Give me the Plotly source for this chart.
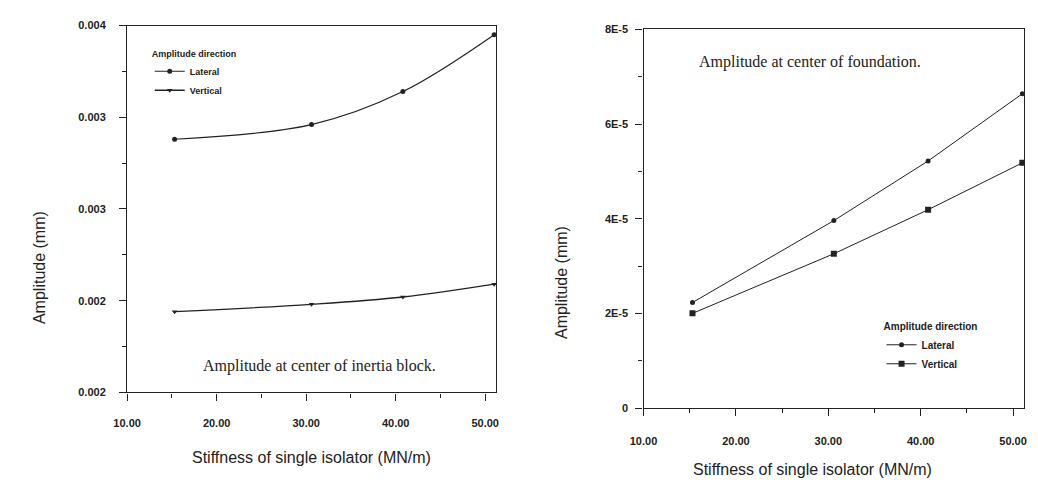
import plotly.graph_objects as go

# ---- data ----
stiffness = [15.3, 30.6, 40.8, 51.0]
inertia_lateral = [0.00338, 0.00346, 0.00364, 0.00395]
inertia_vertical = [0.00244, 0.00248, 0.00252, 0.00259]
foundation_lateral = [2.23e-5, 3.96e-5, 5.22e-5, 6.64e-5]
foundation_vertical = [2.00e-5, 3.26e-5, 4.19e-5, 5.18e-5]

left_ytickvals = [0.002, 0.0025, 0.003, 0.0035, 0.004]
left_yticktext = ["0.002", "0.002", "0.003", "0.003", "0.004"]
right_ytickvals = [0, 2e-5, 4e-5, 6e-5, 8e-5]
right_yticktext = ["0", "2E-5", "4E-5", "6E-5", "8E-5"]
series_names = ["Lateral", "Vertical"]

W, H = 1038, 495
FONT = "Liberation Sans, Arial, sans-serif"
SERIF = "Liberation Serif, Times New Roman, serif"
INK = "#222222"

fig = go.Figure()

fig.add_trace(go.Scatter(x=stiffness, y=inertia_lateral, name=series_names[0],
                         mode="lines+markers", line=dict(color=INK, width=1.2, shape="spline"),
                         marker=dict(symbol="circle", size=5, color=INK),
                         xaxis="x", yaxis="y", legend="legend"))
fig.add_trace(go.Scatter(x=stiffness, y=inertia_vertical, name=series_names[1],
                         mode="lines+markers", line=dict(color=INK, width=1.3, shape="spline"),
                         marker=dict(symbol="triangle-down", size=5, color=INK),
                         xaxis="x", yaxis="y", legend="legend"))
fig.add_trace(go.Scatter(x=stiffness, y=foundation_lateral, name=series_names[0],
                         mode="lines+markers", line=dict(color=INK, width=1),
                         marker=dict(symbol="circle", size=5, color=INK),
                         xaxis="x2", yaxis="y2", legend="legend2"))
fig.add_trace(go.Scatter(x=stiffness, y=foundation_vertical, name=series_names[1],
                         mode="lines+markers", line=dict(color=INK, width=1),
                         marker=dict(symbol="square", size=6, color=INK),
                         xaxis="x2", yaxis="y2", legend="legend2"))

def px_x(p):
    return p / W

def px_y(p):
    return 1 - p / H

tickfont = dict(family=FONT, size=11, color=INK, weight="bold")
common = dict(showline=True, linecolor=INK, linewidth=1.3, mirror=True, ticks="outside",
              ticklen=7, tickwidth=1.2, tickcolor=INK, showgrid=False, zeroline=False,
              tickfont=tickfont)

xcommon = dict(common, range=[10, 51.2], tick0=10, dtick=10, tickformat=".2f",
               minor=dict(dtick=5, tick0=10, ticks="outside", ticklen=4, tickcolor=INK))

fig.update_layout(
    width=W, height=H,
    margin=dict(l=0, r=0, t=0, b=0),
    paper_bgcolor="white", plot_bgcolor="white",
    showlegend=True,
    xaxis=dict(xcommon, domain=[px_x(115), px_x(490)], anchor="y", ticklabelstandoff=13),
    yaxis=dict(common, domain=[px_y(396), px_y(20)], anchor="x",
               range=[0.002, 0.004], tickmode="array", tickvals=left_ytickvals,
               ticktext=left_yticktext, ticklabelstandoff=11,
               minor=dict(dtick=0.00025, tick0=0.002, ticks="outside", ticklen=4, tickcolor=INK)),
    xaxis2=dict(xcommon, domain=[px_x(640), px_x(1027)], anchor="y2", ticklabelstandoff=16),
    yaxis2=dict(common, domain=[px_y(412), px_y(24)], anchor="x2",
                range=[0, 8e-5], tickmode="array", tickvals=right_ytickvals,
                ticktext=right_yticktext, ticklabelstandoff=5,
                minor=dict(dtick=1e-5, tick0=0, ticks="outside", ticklen=4, tickcolor=INK)),
    legend=dict(x=px_x(138), y=px_y(40), xanchor="left", yanchor="top",
                bgcolor="rgba(0,0,0,0)", tracegroupgap=0, itemwidth=30,
                font=dict(family=FONT, size=9, color=INK, weight="bold"),
                title=dict(text="Amplitude direction", side="top",
                           font=dict(family=FONT, size=9, color=INK, weight="bold"))),
    legend2=dict(x=px_x(882), y=px_y(319), xanchor="left", yanchor="top",
                 bgcolor="rgba(0,0,0,0)", tracegroupgap=0, itemwidth=30,
                 font=dict(family=FONT, size=10, color=INK, weight="bold"),
                 title=dict(text="Amplitude direction", side="top",
                            font=dict(family=FONT, size=10, color=INK, weight="bold"))),
)

title_font = dict(family=FONT, size=16, color=INK)
annos = [
    dict(text="Stiffness of single isolator (MN/m)", x=px_x(302), y=px_y(463)),
    dict(text="Stiffness of single isolator (MN/m)", x=px_x(812), y=px_y(475)),
    dict(text="Amplitude (mm)", x=px_x(26), y=px_y(268), textangle=-90),
    dict(text="Amplitude (mm)", x=px_x(556), y=px_y(283), textangle=-90),
]
for a in annos:
    fig.add_annotation(xref="paper", yref="paper", showarrow=False, font=title_font,
                       xanchor="center", yanchor="middle", **a)

fig.add_annotation(xref="paper", yref="paper", showarrow=False,
                   text="Amplitude at center of inertia block.",
                   x=px_x(311), y=px_y(369), xanchor="center", yanchor="middle",
                   font=dict(family=SERIF, size=16, color=INK))
fig.add_annotation(xref="paper", yref="paper", showarrow=False,
                   text="Amplitude at center of foundation.",
                   x=px_x(809), y=px_y(57), xanchor="center", yanchor="middle",
                   font=dict(family=SERIF, size=16, color=INK))

fig.write_html("out.html")
